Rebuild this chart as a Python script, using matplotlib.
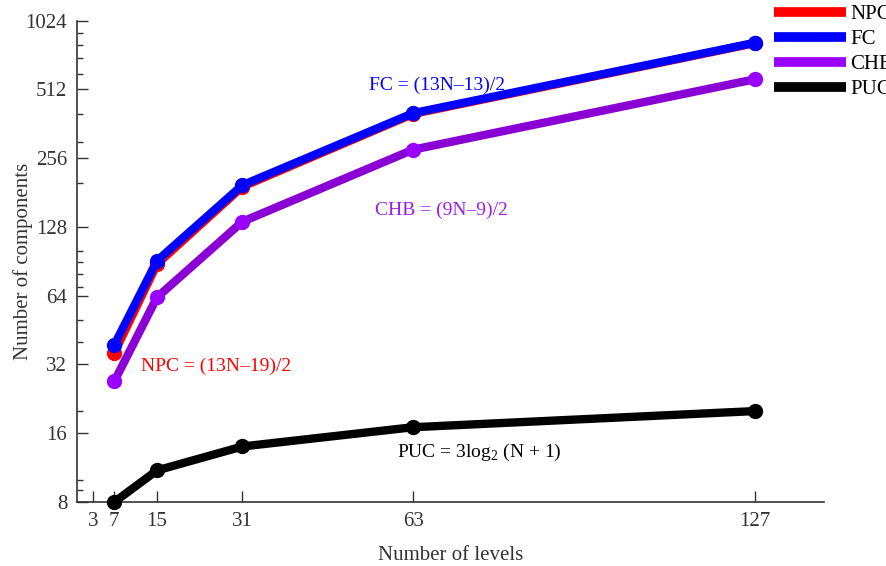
import numpy as np
import matplotlib
matplotlib.use("Agg")
import matplotlib.pyplot as plt
from matplotlib.lines import Line2D
from matplotlib.ticker import FixedLocator, NullFormatter

plt.rcParams['font.family'] = ['Liberation Serif', 'DejaVu Serif']
plt.rcParams['mathtext.fontset'] = 'custom'
plt.rcParams['mathtext.rm'] = 'Liberation Serif'

# niveaux et nombre de composants
levels = [7, 15, 31, 63, 127]
npc = [36, 88, 192, 400, 816]
fc = [39, 91, 195, 403, 819]
chb = [27, 63, 135, 279, 567]
puc = [8, 11, 14, 17, 20]

x_ticks = [3, 7, 15, 31, 63, 127]
y_ticks = [8, 16, 32, 64, 128, 256, 512, 1024]
y_minor = [9, 10, 20, 40, 50, 70, 80, 90, 100, 200, 300, 400, 600, 700, 800, 900]

fig = plt.figure(figsize=(8.87, 5.66), dpi=100)
ax = fig.add_axes([0.0868, 0.1131, 0.8422, 0.8504])

series = [
    ("NPC", npc, "#ff0000", "#ff0000"),
    ("FC", fc, "#0000ff", "#0000ff"),
    ("CHB", chb, "#8a00d4", "#9a00ff"),
    ("PUC", puc, "#000000", "#000000"),
]
handles = []
for name, vals, lc, mc in series:
    ax.plot(levels, vals, color=lc, lw=6, marker='o', ms=10,
            markerfacecolor=mc, markeredgecolor=mc,
            solid_capstyle='butt', clip_on=False, zorder=3)
    handles.append(Line2D([], [], color=mc, lw=7, solid_capstyle='butt', label=name))

ax.set_yscale('log', base=2)
ax.set_xlim(0, 140)
ax.set_ylim(8, 1024)
ax.set_xticks(x_ticks)
ax.set_xticklabels([str(v) for v in x_ticks])
ax.set_yticks(y_ticks)
ax.set_yticklabels([str(v) for v in y_ticks])
ax.yaxis.set_minor_locator(FixedLocator(y_minor))
ax.yaxis.set_minor_formatter(NullFormatter())
ax.xaxis.set_minor_locator(FixedLocator([]))

for s in ['top', 'right']:
    ax.spines[s].set_visible(False)
for s in ['left', 'bottom']:
    ax.spines[s].set_color('#333333')
    ax.spines[s].set_linewidth(1.2)

ax.tick_params(axis='both', which='major', direction='in', length=8,
               width=1, colors='#333333', labelsize=15, labelcolor='#333333', pad=7)
ax.tick_params(axis='y', which='minor', direction='in', length=4,
               width=1, colors='#333333')

ax.set_xlabel('Number of levels', fontsize=15, color='#333333', labelpad=11)
ax.set_ylabel('Number of components', fontsize=15, color='#333333')
ax.yaxis.set_label_coords(-0.059, 0.5)

# formules
ax.text(67.5, 535, 'FC = (13N–13)/2', color='#0000ff', fontsize=14, ha='center', va='center')
ax.text(68.3, 151, 'CHB = (9N–9)/2', color='#9a1bf0', fontsize=14, ha='center', va='center')
ax.text(26.1, 31.5, 'NPC = (13N–19)/2', color='#ff0000', fontsize=14, ha='center', va='center')
ax.text(75.4, 13.2, r'PUC = 3log$_{2}$ (N + 1)', color='#000000', fontsize=14, ha='center', va='center')

fig.legend(handles=handles, loc='upper left', bbox_to_anchor=(0.8726, 0.992),
           frameon=False, handlelength=3.45, handletextpad=0.2, labelspacing=0.26,
           fontsize=15, borderaxespad=0, borderpad=0)

fig.savefig('out.png', dpi=100)
